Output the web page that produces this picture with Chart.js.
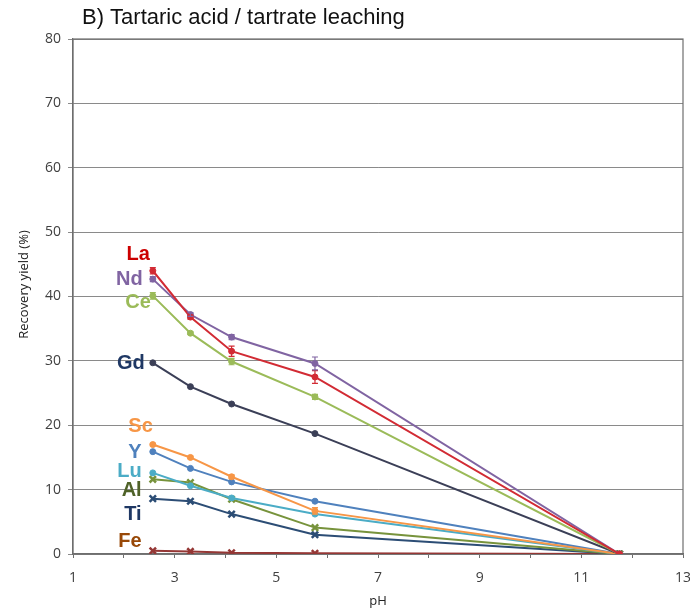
<!DOCTYPE html>
<html>
<head>
<meta charset="utf-8">
<script src="https://cdn.jsdelivr.net/npm/chart.js@4/dist/chart.umd.min.js"></script>
<style>
  html, body { margin: 0; padding: 0; background: #fff; }
  #wrap { width: 690px; height: 610px; }
</style>
</head>
<body>
<div id="wrap"><canvas id="c" width="690" height="610"></canvas></div>
<script>
// Leaching pH values (x positions of the measurements)
const pH = [2.57, 3.31, 4.12, 5.76, 11.75];

// Recovery yields (%) per element
const La = [44.0, 36.8, 31.5, 27.5, 0];
const Nd = [42.7, 37.2, 33.7, 29.6, 0];
const Ce = [40.1, 34.3, 29.9, 24.4, 0];
const Gd = [29.7, 26.0, 23.3, 18.7, 0];
const Sc = [17.0, 15.0, 12.0, 6.7, 0];
const Yt = [15.9, 13.3, 11.2, 8.2, 0];
const Lu = [12.6, 10.6, 8.7, 6.2, 0];
const Al = [11.6, 11.1, 8.5, 4.1, 0];
const Ti = [8.6, 8.2, 6.2, 3.0, 0];
const Fe = [0.5, 0.4, 0.2, 0.1, 0];

// Standard deviations
const La_err = [0.5, 0.3, 0.8, 1.0, 0];
const Nd_err = [0.4, 0.3, 0.4, 1.0, 0];
const Ce_err = [0.5, 0.2, 0.5, 0.4, 0];
const Sc_err = [0.2, 0.2, 0.3, 0.5, 0];

// Axis ticks
const xTicks = [1, 3, 5, 7, 9, 11, 13];
const yTicks = [0, 10, 20, 30, 40, 50, 60, 70, 80];

function pts(ys) { return pH.map((x, i) => ({ x: x, y: ys[i] })); }

// name, values, errors, line colour, label colour, marker, label anchor (pH, %)
const series = [
  ['La', La, La_err, '#d22b34', '#cc0000', 'circle', 2.51, 46.6],
  ['Nd', Nd, Nd_err, '#8064a2', '#8064a2', 'circle', 2.37, 42.7],
  ['Ce', Ce, Ce_err, '#9bbb59', '#9bbb59', 'circle', 2.53, 39.0],
  ['Gd', Gd, null,   '#3b3f57', '#1f3864', 'circle', 2.41, 29.6],
  ['Sc', Sc, Sc_err, '#f79646', '#f79646', 'circle', 2.57, 19.8],
  ['Y',  Yt, null,   '#4f81bd', '#4f81bd', 'circle', 2.35, 15.8],
  ['Lu', Lu, null,   '#4bacc6', '#4bacc6', 'circle', 2.35, 12.8],
  ['Al', Al, null,   '#77933c', '#4f6228', 'crossRot', 2.35, 9.8],
  ['Ti', Ti, null,   '#2c4d75', '#1f3864', 'crossRot', 2.35, 6.1],
  ['Fe', Fe, null,   '#953735', '#984807', 'crossRot', 2.35, 2.0]
];

const datasets = series.map(s => ({
  label: s[0],
  data: pts(s[1]),
  errors: s[2],
  borderColor: s[3],
  backgroundColor: s[3],
  textColor: s[4],
  pointStyle: s[5],
  labelAt: { x: s[6], y: s[7] },
  borderWidth: 2,
  pointRadius: s[5] === 'circle' ? 3 : 4.5,
  pointBorderWidth: s[5] === 'circle' ? 1 : 2.5,
  tension: 0
}));

const chartDecor = {
  id: 'chartDecor',
  beforeDatasetsDraw(chart) {
    const { ctx, chartArea: a } = chart;
    ctx.save();
    ctx.strokeStyle = '#6e6e6e';
    ctx.lineWidth = 1.2;
    ctx.strokeRect(a.left, a.top, a.right - a.left, a.bottom - a.top);
    // y axis title
    ctx.translate(24, (a.top + a.bottom) / 2 - 12);
    ctx.rotate(-Math.PI / 2);
    ctx.font = '13px "Open Sans", sans-serif';
    ctx.fillStyle = '#222';
    ctx.textAlign = 'center';
    ctx.textBaseline = 'middle';
    ctx.fillText('Recovery yield (%)', 0, 0);
    ctx.restore();
  },
  afterDatasetsDraw(chart) {
    const { ctx, scales } = chart;
    const xs = scales.x, ys = scales.y;
    ctx.save();
    // error bars
    chart.data.datasets.forEach(ds => {
      if (!ds.errors) return;
      ctx.strokeStyle = ds.borderColor;
      ctx.lineWidth = 1.2;
      ds.data.forEach((p, i) => {
        const e = ds.errors[i];
        if (!e) return;
        const px = xs.getPixelForValue(p.x);
        const y1 = ys.getPixelForValue(p.y - e);
        const y2 = ys.getPixelForValue(p.y + e);
        ctx.beginPath();
        ctx.moveTo(px, y1); ctx.lineTo(px, y2);
        ctx.moveTo(px - 3, y1); ctx.lineTo(px + 3, y1);
        ctx.moveTo(px - 3, y2); ctx.lineTo(px + 3, y2);
        ctx.stroke();
      });
    });
    // element labels
    ctx.font = 'bold 20px "Liberation Sans", Arial, sans-serif';
    ctx.textAlign = 'right';
    ctx.textBaseline = 'middle';
    chart.data.datasets.forEach(ds => {
      ctx.fillStyle = ds.textColor;
      ctx.fillText(ds.label, xs.getPixelForValue(ds.labelAt.x), ys.getPixelForValue(ds.labelAt.y));
    });
    // title
    ctx.font = '22px "Liberation Sans", Arial, sans-serif';
    ctx.textAlign = 'left';
    ctx.textBaseline = 'middle';
    ctx.fillStyle = '#111';
    ctx.fillText('B) Tartaric acid / tartrate leaching', 82, 18);
    ctx.restore();
  }
};

new Chart(document.getElementById('c'), {
  type: 'line',
  data: { datasets: datasets },
  plugins: [chartDecor],
  options: {
    responsive: false,
    animation: false,
    layout: { padding: { top: 39, right: 7, left: 0, bottom: 0 } },
    plugins: { legend: { display: false }, tooltip: { enabled: false } },
    scales: {
      x: {
        type: 'linear',
        min: 1, max: 13,
        afterFit(s) { s.height = 56; s.paddingRight = 0; s.paddingLeft = 0; },
        afterBuildTicks(s) { s.ticks = []; for (let v = 1; v <= 13; v++) s.ticks.push({ value: v }); },
        ticks: {
          autoSkip: false,
          maxRotation: 0,
          padding: 12,
          color: '#404040',
          font: { family: '"Open Sans", sans-serif', size: 14 },
          callback: v => xTicks.includes(v) ? String(v) : ''
        },
        grid: { drawOnChartArea: false, drawTicks: true, tickLength: 4, color: '#6e6e6e' },
        border: { color: '#6e6e6e', width: 1.2 },
        title: { display: true, text: 'pH', color: '#222', padding: { top: 0, bottom: 1 },
                 font: { family: '"Open Sans", sans-serif', size: 13 } }
      },
      y: {
        min: 0, max: 80,
        afterFit(s) { s.width = 73; },
        afterBuildTicks(s) { s.ticks = yTicks.map(v => ({ value: v })); },
        ticks: {
          padding: 7,
          color: '#404040',
          font: { family: '"Open Sans", sans-serif', size: 14 }
        },
        grid: { color: '#8a8a8a', lineWidth: 1, tickLength: 5 },
        border: { color: '#6e6e6e', width: 1.2 },
        title: { display: false }
      }
    }
  }
});
</script>
</body>
</html>
